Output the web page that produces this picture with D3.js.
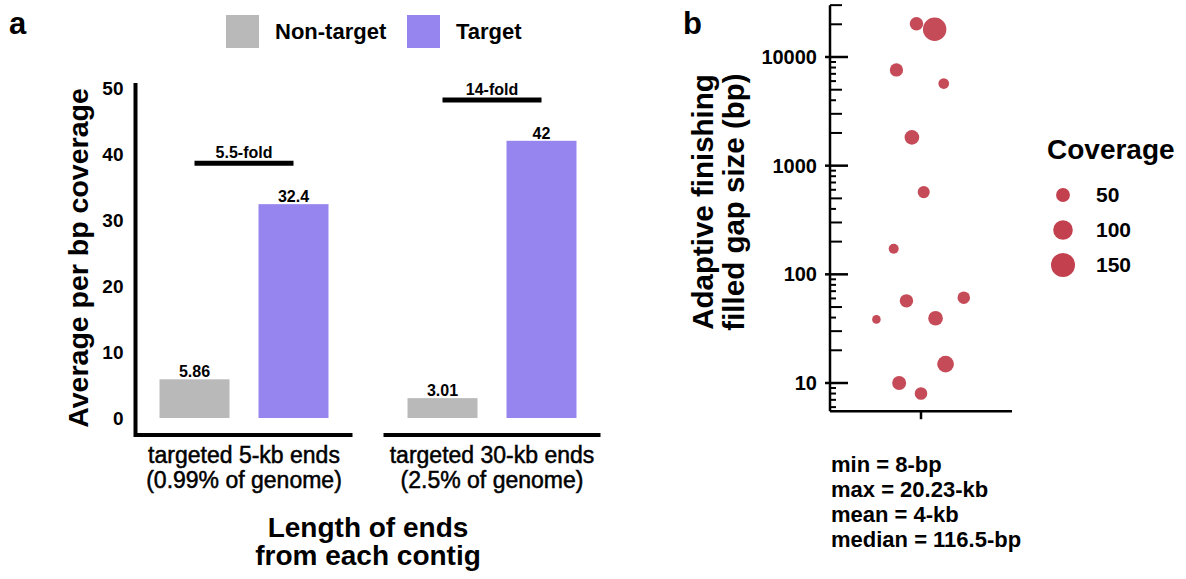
<!DOCTYPE html>
<html>
<head>
<meta charset="utf-8">
<script src="https://cdn.jsdelivr.net/npm/d3@7"></script>
<style>
    body { margin: 0; background: #fff; }
    svg { display: block; font-family: "Liberation Sans", Arial, sans-serif; }
    text { fill: #000; }
</style>
</head>
<body>
<svg id="chart" width="1186" height="579"></svg>
<script>
/**
 * Data.
 */
const categories = ['targeted 5-kb ends', 'targeted 30-kb ends'],
    categoryNotes = ['(0.99% of genome)', '(2.5% of genome)'],
    groups = ['Non-target', 'Target'],
    nonTarget = [5.86, 3.01],
    target = [32.4, 42],
    foldLabels = ['5.5-fold', '14-fold'],
    coverageTicks = [0, 10, 20, 30, 40, 50];

const gapSizes = [20230, 18000, 7600, 5700, 1820, 571, 172, 57, 61, 38.5, 39.4, 14.9, 10, 8],
    gapCoverage = [47, 143, 46, 30, 56, 38, 26, 47, 41, 19, 56, 72, 51, 41],
    gapJitter = [-0.05, 0.15, -0.27, 0.25, -0.10, 0.03, -0.30, -0.16, 0.47, -0.49, 0.16, 0.27, -0.24, 0.0],
    gapTicks = [10, 100, 1000, 10000],
    gapAxisExtent = [5.5, 30000],
    sizeLegend = [50, 100, 150],
    stats = ['min = 8-bp', 'max = 20.23-kb', 'mean = 4-kb', 'median = 116.5-bp'];

/**
 * Colours.
 */
const colors = { 'Non-target': '#b9b9b9', 'Target': '#9685ef' },
    dotColor = '#c3414f';

const svg = d3.select('#chart');

/**
 * Panel a: bar chart.
 */
function drawBars() {
    const g = svg.append('g').attr('class', 'panel-a');

    const y = d3.scaleLinear().domain([0, 50]).range([418, 88]);
    const x0 = d3.scaleBand().domain(categories).range([120, 616]);
    const x1 = d3.scaleBand().domain(groups).range([-99, 99])
        .paddingInner(0.293).paddingOuter(0.1465);
    const center = c => x0(c) + x0.bandwidth() / 2;
    const half = 108.5;

    const rows = categories.map((c, i) => ({
        category: c,
        note: categoryNotes[i],
        fold: foldLabels[i],
        values: [
            { group: groups[0], value: nonTarget[i] },
            { group: groups[1], value: target[i] }
        ]
    }));

    // Axis lines
    const c0 = center(categories[0]);
    g.append('path')
        .attr('d', `M${c0 - half},${y(50) - 5}V${y(0) + 17}H${c0 + half}`)
        .attr('fill', 'none').attr('stroke', '#000').attr('stroke-width', 4);
    g.selectAll('.seg').data(categories.slice(1)).enter().append('line')
        .attr('class', 'seg')
        .attr('x1', d => center(d) - half).attr('x2', d => center(d) + half)
        .attr('y1', y(0) + 17).attr('y2', y(0) + 17)
        .attr('stroke', '#000').attr('stroke-width', 4);

    // Tick labels
    const axis = g.append('g').attr('transform', `translate(${c0 - half},0)`)
        .call(d3.axisLeft(y).tickValues(coverageTicks).tickSize(0).tickPadding(12));
    axis.select('.domain').remove();
    axis.selectAll('text').attr('font-size', 19).attr('font-weight', 'bold')
        .attr('font-family', '"Liberation Sans", Arial, sans-serif').attr('fill', '#000');

    // Bars
    const grp = g.selectAll('.group').data(rows).enter().append('g')
        .attr('class', 'group')
        .attr('transform', d => `translate(${center(d.category)},0)`);

    grp.selectAll('rect').data(d => d.values).enter().append('rect')
        .attr('x', d => x1(d.group))
        .attr('width', x1.bandwidth())
        .attr('y', d => y(d.value))
        .attr('height', d => y(0) - y(d.value))
        .attr('fill', d => colors[d.group]);

    grp.selectAll('.val').data(d => d.values).enter().append('text')
        .attr('class', 'val')
        .attr('x', d => x1(d.group) + x1.bandwidth() / 2)
        .attr('y', d => y(d.value) - 2)
        .attr('text-anchor', 'middle')
        .attr('font-size', 16).attr('font-weight', 'bold')
        .text(d => d.value);

    // Fold brackets
    const foldY = d => y(d3.max(d.values, v => v.value) + 6.2);
    const mid = d => x1(d) + x1.bandwidth() / 2;
    grp.append('line')
        .attr('x1', mid(groups[0])).attr('x2', mid(groups[1]))
        .attr('y1', foldY).attr('y2', foldY)
        .attr('stroke', '#000').attr('stroke-width', 5);
    grp.append('text')
        .attr('x', (mid(groups[0]) + mid(groups[1])) / 2)
        .attr('y', d => foldY(d) - 5)
        .attr('text-anchor', 'middle')
        .attr('font-size', 16).attr('font-weight', 'bold')
        .text(d => d.fold);

    // Category labels
    grp.append('text')
        .attr('y', 463).attr('text-anchor', 'middle').attr('font-size', 23)
        .attr('stroke', '#000').attr('stroke-width', 0.5)
        .text(d => d.category);
    grp.append('text')
        .attr('y', 488).attr('text-anchor', 'middle').attr('font-size', 23)
        .attr('stroke', '#000').attr('stroke-width', 0.5)
        .text(d => d.note);

    // Axis titles
    g.append('text')
        .attr('transform', 'translate(88,258) rotate(-90)')
        .attr('text-anchor', 'middle').attr('font-size', 28.5).attr('font-weight', 'bold')
        .text('Average per bp coverage');
    const xTitle = g.append('text')
        .attr('text-anchor', 'middle').attr('font-size', 28).attr('font-weight', 'bold');
    xTitle.append('tspan').attr('x', 368).attr('y', 537).text('Length of ends');
    xTitle.append('tspan').attr('x', 368).attr('y', 565).text('from each contig');

    // Legend
    const leg = g.selectAll('.legend').data(groups).enter().append('g')
        .attr('class', 'legend')
        .attr('transform', (d, i) => `translate(${226 + i * 181},15)`);
    leg.append('rect').attr('width', 33).attr('height', 33).attr('fill', d => colors[d]);
    leg.append('text').attr('x', 49).attr('y', 24)
        .attr('font-size', 22).attr('font-weight', 'bold').text(d => d);

    // Panel label
    g.append('text').attr('x', 9).attr('y', 34)
        .attr('font-size', 31).attr('font-weight', 'bold').text('a');
}

/**
 * Panel b: bubble strip plot on a log axis.
 */
function drawDots() {
    const g = svg.append('g').attr('class', 'panel-b');

    const y = d3.scaleLog().domain([10, 10000]).range([383, 57]);
    const x = d3.scaleLinear().domain([-1, 1]).range([830, 1012]);
    const r = d3.scaleSqrt().domain([0, 150]).range([0, 12]);
    const axisX = x(-1), axisBottom = y(gapAxisExtent[0]);

    // Axis lines
    g.append('line')
        .attr('x1', axisX).attr('x2', axisX)
        .attr('y1', y(gapAxisExtent[1])).attr('y2', axisBottom)
        .attr('stroke', '#000').attr('stroke-width', 2.5);
    g.append('line')
        .attr('x1', axisX).attr('x2', x(1))
        .attr('y1', axisBottom).attr('y2', axisBottom)
        .attr('stroke', '#000').attr('stroke-width', 2.5);
    g.append('line')
        .attr('x1', x(0)).attr('x2', x(0))
        .attr('y1', axisBottom).attr('y2', axisBottom + 8)
        .attr('stroke', '#000').attr('stroke-width', 2.5);

    // Minor ticks
    const minor = [];
    [1, 10, 100, 1000, 10000].forEach(p => {
        d3.range(2, 10).forEach(m => {
            const v = m * p;
            if (v >= gapAxisExtent[0] && v <= gapAxisExtent[1]) minor.push({ v, m });
        });
    });
    g.selectAll('.minor').data(minor).enter().append('line')
        .attr('class', 'minor')
        .attr('x1', axisX).attr('x2', d => axisX + ([2, 3, 5].includes(d.m) ? 12 : 6))
        .attr('y1', d => y(d.v)).attr('y2', d => y(d.v))
        .attr('stroke', '#000').attr('stroke-width', 2);

    // Major ticks
    g.selectAll('.major').data(gapTicks).enter().append('line')
        .attr('class', 'major')
        .attr('x1', axisX - 5).attr('x2', axisX + 18)
        .attr('y1', d => y(d)).attr('y2', d => y(d))
        .attr('stroke', '#000').attr('stroke-width', 2.5);

    const axis = g.append('g').attr('transform', `translate(${axisX},0)`)
        .call(d3.axisLeft(y).tickValues(gapTicks).tickFormat(d3.format('d'))
            .tickSize(0).tickPadding(13));
    axis.select('.domain').remove();
    axis.selectAll('text').attr('font-size', 20).attr('font-weight', 'bold')
        .attr('font-family', '"Liberation Sans", Arial, sans-serif').attr('fill', '#000');

    // Dots
    const dots = gapSizes.map((s, i) => ({ size: s, coverage: gapCoverage[i], jitter: gapJitter[i] }));
    g.selectAll('.dot').data(dots).enter().append('circle')
        .attr('class', 'dot')
        .attr('cx', d => x(d.jitter))
        .attr('cy', d => y(d.size))
        .attr('r', d => r(d.coverage))
        .attr('fill', dotColor).attr('fill-opacity', 0.95);

    // Axis title
    const title = g.append('text')
        .attr('transform', 'translate(0,202) rotate(-90)')
        .attr('text-anchor', 'middle').attr('font-size', 29.5).attr('font-weight', 'bold');
    title.append('tspan').attr('x', 0).attr('y', 713).text('Adaptive finishing');
    title.append('tspan').attr('x', 0).attr('y', 744).text('filled gap size (bp)');

    // Size legend
    g.append('text').attr('x', 1047).attr('y', 159)
        .attr('font-size', 28).attr('font-weight', 'bold').text('Coverage');
    const leg = g.selectAll('.size-legend').data(sizeLegend).enter().append('g')
        .attr('class', 'size-legend')
        .attr('transform', (d, i) => `translate(1063,${195 + i * 35})`);
    leg.append('circle').attr('r', d => r(d)).attr('fill', dotColor);
    leg.append('text').attr('x', 33).attr('dy', '0.35em')
        .attr('font-size', 21).attr('font-weight', 'bold').text(d => d);

    // Summary stats
    g.selectAll('.stat').data(stats).enter().append('text')
        .attr('class', 'stat')
        .attr('x', 831).attr('y', (d, i) => 472 + i * 25)
        .attr('font-size', 22).attr('font-weight', 'bold').text(d => d);

    // Panel label
    g.append('text').attr('x', 683).attr('y', 34)
        .attr('font-size', 31).attr('font-weight', 'bold').text('b');
}

drawBars();
drawDots();
</script>
</body>
</html>
